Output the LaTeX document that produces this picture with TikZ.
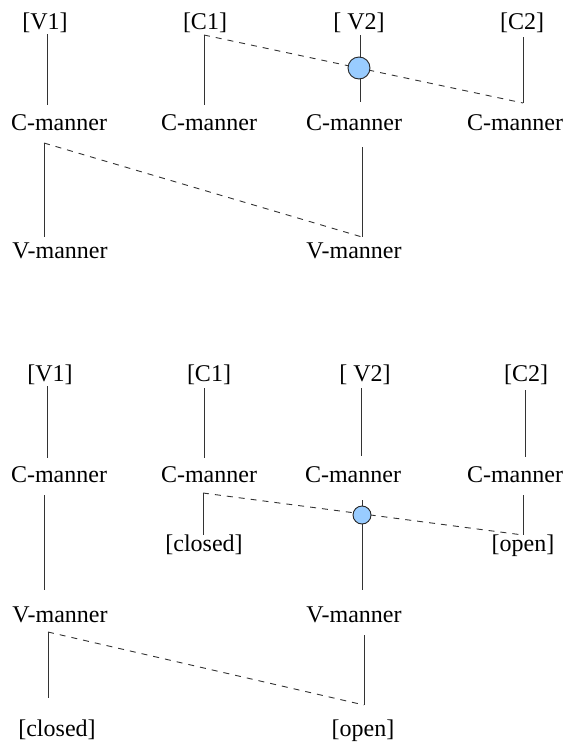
\documentclass[tikz,border=0pt]{standalone}
\usepackage{fontspec}
\setmainfont{Liberation Serif}
\begin{document}
\begin{tikzpicture}[x=1pt,y=-1pt,
  lbl/.style={anchor=base,inner sep=0pt,font=\fontsize{24}{28}\selectfont},
  ln/.style={draw=black!80,line width=0.9pt},
  dsh/.style={draw=black!80,line width=0.9pt,dash pattern=on 6pt off 6pt},
  dot/.style={circle,draw=black!85,line width=0.9pt,fill=blue!40!cyan!25!white,fill={rgb,255:red,153;green,204;blue,255},inner sep=0pt}]
\useasboundingbox (0,0) rectangle (565,742);
% ---------- top panel ----------
\node[lbl] (tv1) at (45,29) {[V1]};
\node[lbl] (tc1) at (205,29) {[C1]};
\node[lbl] (tv2) at (359,29) {[ V2]};
\node[lbl] (tc2) at (522,29) {[C2]};
\node[lbl] (tcm1) at (59,130) {C-manner};
\node[lbl] (tcm2) at (209,130) {C-manner};
\node[lbl] (tcm3) at (354,130) {C-manner};
\node[lbl] (tcm4) at (515,130) {C-manner};
\node[lbl] (tvm1) at (60,258) {V-manner};
\node[lbl] (tvm2) at (354,258) {V-manner};
\coordinate (a1) at (47,34); \coordinate (a2) at (47,105);
\coordinate (b1) at (204,35); \coordinate (b2) at (204,105);
\coordinate (c1) at (360,35); \coordinate (c2) at (360,102);
\coordinate (d1) at (523,37); \coordinate (d2) at (523,103);
\coordinate (e1) at (44,143); \coordinate (e2) at (44,237);
\coordinate (f1) at (362,147); \coordinate (f2) at (362,237);
\draw[ln] (a1) -- (a2);
\draw[ln] (b1) -- (b2);
\draw[ln] (c1) -- (c2);
\draw[ln] (d1) -- (d2);
\draw[dsh] (b1) -- (d2);
\draw[ln] (e1) -- (e2);
\draw[ln] (f1) -- (f2);
\draw[dsh] (e1) -- (f2);
\node[dot,minimum size=22pt] (tdot) at (359,68) {};
% ---------- bottom panel ----------
\node[lbl] (bv1) at (50,381) {[V1]};
\node[lbl] (bc1) at (209,381) {[C1]};
\node[lbl] (bv2) at (365,381) {[ V2]};
\node[lbl] (bc2) at (526,381) {[C2]};
\node[lbl] (bcm1) at (59,482) {C-manner};
\node[lbl] (bcm2) at (209,482) {C-manner};
\node[lbl] (bcm3) at (353,482) {C-manner};
\node[lbl] (bcm4) at (515,482) {C-manner};
\node[lbl] (bcl1) at (204,551) {[closed]};
\node[lbl] (bop1) at (523,551) {[open]};
\node[lbl] (bvm1) at (60,622) {V-manner};
\node[lbl] (bvm2) at (354,622) {V-manner};
\node[lbl] (bcl2) at (57,736) {[closed]};
\node[lbl] (bop2) at (363,736) {[open]};
\coordinate (g1) at (47,386); \coordinate (g2) at (47,458);
\coordinate (h1) at (204,388); \coordinate (h2) at (204,458);
\coordinate (i1) at (361,388); \coordinate (i2) at (361,456);
\coordinate (j1) at (525,390); \coordinate (j2) at (525,457);
\coordinate (k1) at (203,493); \coordinate (k2) at (203,535);
\coordinate (l1) at (523,495); \coordinate (l2) at (523,535);
\coordinate (m1) at (362,500); \coordinate (m2) at (362,590);
\coordinate (n1) at (44,495); \coordinate (n2) at (44,590);
\coordinate (o1) at (48,632); \coordinate (o2) at (48,698);
\coordinate (p1) at (364,635); \coordinate (p2) at (364,705);
\draw[ln] (g1) -- (g2);
\draw[ln] (h1) -- (h2);
\draw[ln] (i1) -- (i2);
\draw[ln] (j1) -- (j2);
\draw[ln] (k1) -- (k2);
\draw[ln] (l1) -- (l2);
\draw[dsh] (k1) -- (l2);
\draw[ln] (m1) -- (m2);
\draw[ln] (n1) -- (n2);
\draw[ln] (o1) -- (o2);
\draw[ln] (p1) -- (p2);
\draw[dsh] (o1) -- (p2);
\node[dot,minimum size=18pt] (bdot) at (362,515) {};
\end{tikzpicture}
\end{document}
